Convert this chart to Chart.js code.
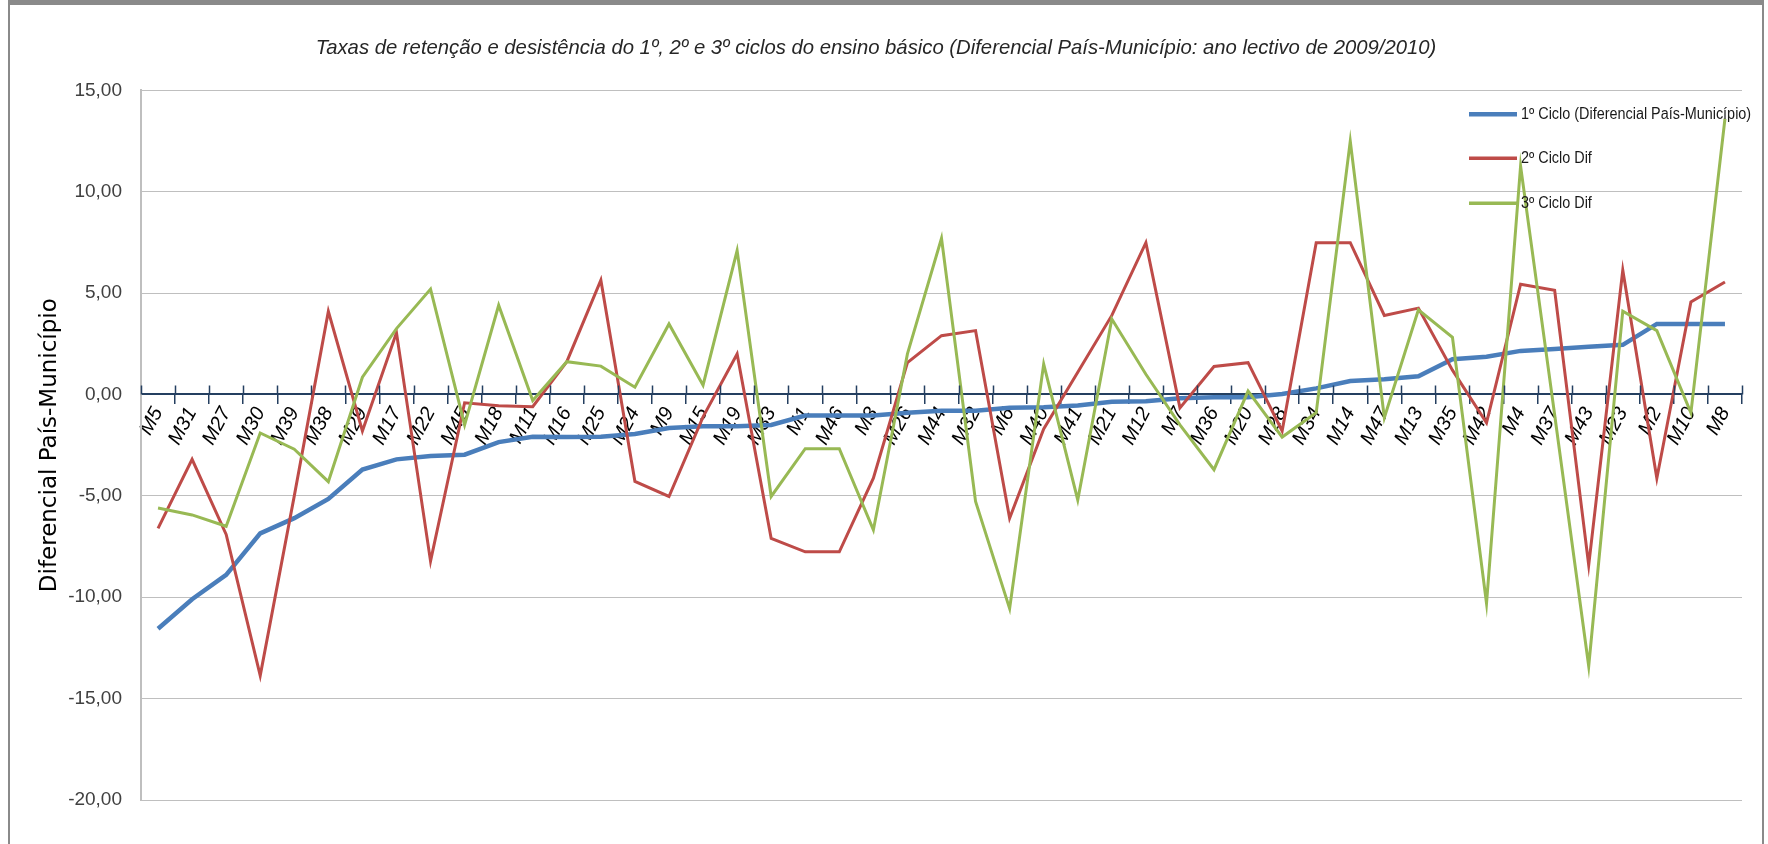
<!DOCTYPE html>
<html>
<head>
<meta charset="utf-8">
<script src="https://cdn.jsdelivr.net/npm/chart.js@4.4.1/dist/chart.umd.min.js"></script>
<style>
html,body{margin:0;padding:0;background:#ffffff;overflow:hidden;}
#frame{position:absolute;left:8px;top:0;width:1756px;height:870px;border-top:5px solid #8a8a8a;border-left:2px solid #8a8a8a;border-right:2px solid #8a8a8a;box-sizing:border-box;}
#c{position:absolute;left:0;top:0;}
</style>
</head>
<body>
<div id="frame"></div>
<canvas id="c" width="1768" height="844"></canvas>
<script>
const chartTitle = 'Taxas de retenção e desistência do 1º, 2º e 3º ciclos do ensino básico (Diferencial País-Município: ano lectivo de 2009/2010)';
const yAxisTitle = 'Diferencial País-Município';
const seriesLabels = ['1º Ciclo (Diferencial País-Município)', '2º Ciclo Dif', '3º Ciclo Dif'];
const seriesColors = ['#4A7EBB', '#BE4B48', '#98B954'];

const categories = ['M5','M31','M27','M30','M39','M38','M29','M17','M22','M45','M18','M11','M16','M25','M24','M9','M15','M19','M33','M1','M46','M3','M26','M44','M32','M6','M40','M41','M21','M12','M7','M36','M20','M28','M34','M14','M47','M13','M35','M42','M4','M37','M43','M23','M2','M10','M8'];

const ciclo1 = [-11.55,-10.1,-8.9,-6.85,-6.1,-5.15,-3.7,-3.2,-3.03,-2.97,-2.35,-2.08,-2.1,-2.08,-1.95,-1.65,-1.57,-1.57,-1.5,-1.04,-1.04,-1.04,-0.9,-0.8,-0.8,-0.66,-0.63,-0.54,-0.36,-0.33,-0.18,-0.13,-0.13,0.02,0.3,0.66,0.75,0.9,1.74,1.86,2.15,2.24,2.35,2.45,3.48,3.48,3.48];

const ciclo2 = [-6.6,-3.2,-6.9,-13.86,-5.0,4.1,-1.8,3.05,-8.22,-0.41,-0.55,-0.6,1.62,5.64,-4.29,-5.03,-1.1,2.0,-7.1,-7.76,-7.76,-4.13,1.57,2.9,3.15,-6.1,-1.7,1.1,3.9,7.49,-0.66,1.38,1.57,-1.8,7.49,7.49,3.9,4.26,1.2,-1.4,5.44,5.14,-8.42,6.13,-4.13,4.56,5.55];

const ciclo3 = [-5.6,-5.94,-6.5,-1.9,-2.7,-4.3,0.85,3.25,5.2,-1.5,4.4,-0.3,1.62,1.4,0.36,3.48,0.46,7.1,-5.03,-2.67,-2.67,-6.68,2.0,7.7,-5.28,-10.56,1.5,-5.2,3.72,1.0,-1.5,-3.71,0.17,-2.1,-0.9,12.5,-1.15,4.18,2.82,-10.3,11.27,-1.0,-13.4,4.11,3.15,-0.91,13.6];

const yMin = -20, yMax = 15, yStep = 5;

// upper half of the category tick marks that cross the zero axis
const crossTicks = {
  id: 'crossTicks',
  afterDraw(chart) {
    const xs = chart.scales.x, ys = chart.scales.y, ctx = chart.ctx;
    const y0 = ys.getPixelForValue(0);
    ctx.save();
    ctx.strokeStyle = '#243F60';
    ctx.lineWidth = 1.5;
    ctx.beginPath();
    for (let i = 0; i <= categories.length; i++) {
      const px = Math.round(xs.getPixelForValue(i - 0.5)) + 0.5;
      ctx.moveTo(px, y0 - 9);
      ctx.lineTo(px, y0);
    }
    ctx.stroke();
    ctx.restore();
  }
};

// legend drawn inside the plot area, top right (condensed text like the original)
const innerLegend = {
  id: 'innerLegend',
  afterDraw(chart) {
    const ctx = chart.ctx, area = chart.chartArea;
    const x0 = area.right - 273;
    const rows = [24, 68, 113];
    const widths = [4.5, 3.5, 3.5];
    ctx.save();
    ctx.font = '16px "Liberation Sans", sans-serif';
    ctx.textBaseline = 'middle';
    ctx.textAlign = 'left';
    chart.data.datasets.forEach((ds, i) => {
      const y = area.top + rows[i];
      ctx.strokeStyle = ds.borderColor;
      ctx.lineWidth = widths[i];
      ctx.beginPath();
      ctx.moveTo(x0, y);
      ctx.lineTo(x0 + 48, y);
      ctx.stroke();
      ctx.save();
      ctx.translate(x0 + 52, y);
      ctx.scale(0.9, 1);
      ctx.fillStyle = '#1a1a1a';
      ctx.fillText(ds.label, 0, 0);
      ctx.restore();
    });
    ctx.restore();
  }
};

new Chart(document.getElementById('c'), {
  type: 'line',
  data: {
    labels: categories,
    datasets: [
      { label: seriesLabels[0], data: ciclo1, borderColor: seriesColors[0], backgroundColor: seriesColors[0], borderWidth: 4.5, pointRadius: 0, tension: 0, order: 2 },
      { label: seriesLabels[1], data: ciclo2, borderColor: seriesColors[1], backgroundColor: seriesColors[1], borderWidth: 3, pointRadius: 0, tension: 0, order: 1 },
      { label: seriesLabels[2], data: ciclo3, borderColor: seriesColors[2], backgroundColor: seriesColors[2], borderWidth: 3, pointRadius: 0, tension: 0, order: 0 }
    ]
  },
  options: {
    responsive: false,
    animation: false,
    devicePixelRatio: 1,
    layout: { padding: { left: 10, right: 26, top: 0, bottom: 44 } },
    plugins: {
      legend: { display: false },
      tooltip: { enabled: false },
      title: {
        display: true,
        text: chartTitle,
        color: '#262626',
        font: { family: '"Liberation Sans", sans-serif', size: 20.3, style: 'italic', weight: 'normal', lineHeight: 1.2 },
        padding: { top: 36, bottom: 30 }
      }
    },
    scales: {
      x: {
        type: 'category',
        position: { y: 0 },
        offset: true,
        grid: { display: true, offset: true, drawOnChartArea: false, drawTicks: true, tickLength: 9, color: '#243F60', lineWidth: 1.5 },
        border: { display: true, color: '#243F60', width: 2 },
        ticks: {
          autoSkip: false,
          maxRotation: 62,
          minRotation: 62,
          padding: 0,
          color: '#000000',
          font: { family: '"Liberation Sans", sans-serif', size: 20, style: 'italic' }
        }
      },
      y: {
        min: yMin,
        max: yMax,
        afterFit(scale) { scale.width = 131; },
        grid: { color: '#BFBFBF', lineWidth: 1, drawTicks: false },
        border: { display: true, color: '#BFBFBF', width: 2 },
        ticks: {
          stepSize: yStep,
          padding: 19,
          color: '#404040',
          font: { family: '"Liberation Sans", sans-serif', size: 19 },
          callback: v => v.toFixed(2).replace('.', ',')
        },
        title: {
          display: true,
          text: yAxisTitle,
          color: '#000000',
          font: { family: '"DejaVu Sans", sans-serif', size: 23, weight: 'normal', lineHeight: 1.2 },
          padding: { top: 26, bottom: 0 }
        }
      }
    }
  },
  plugins: [crossTicks, innerLegend]
});
</script>
</body>
</html>
